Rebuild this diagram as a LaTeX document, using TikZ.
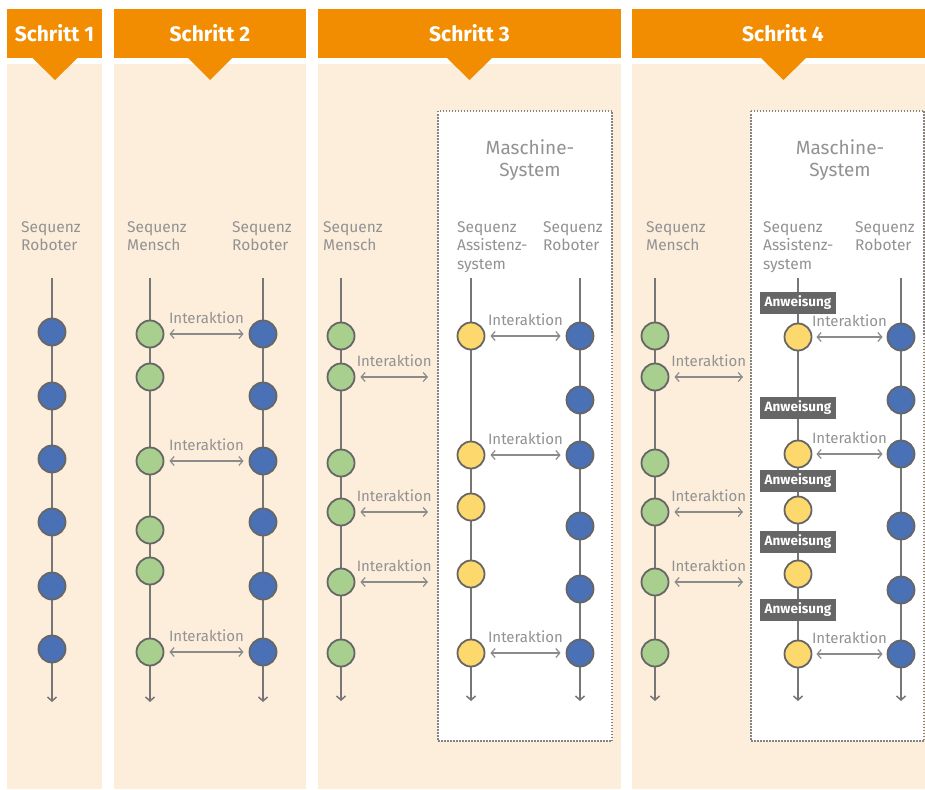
\documentclass[tikz,border=0pt]{standalone}
\usepackage{fontspec}
\setmainfont{Fira Sans}
\usetikzlibrary{arrows.meta}
\definecolor{orng}{HTML}{F28C00}
\definecolor{peach}{HTML}{FDEEDC}
\definecolor{grn}{HTML}{A8CF8E}
\definecolor{blu}{HTML}{4A70B5}
\definecolor{ylw}{HTML}{FDD86C}
\definecolor{rim}{HTML}{666666}
\definecolor{txt}{HTML}{929292}
\definecolor{lin}{HTML}{767676}
\tikzset{dot/.style={shape=circle,draw=rim,line width=1.8pt,minimum size=27pt,inner sep=0pt}}
\tikzset{mensch/.style={dot,fill=grn},roboter/.style={dot,fill=blu},assist/.style={dot,fill=ylw}}
\tikzset{barb/.tip={Straight Barb[length=4pt,width=9pt]}}
\tikzset{seq/.style={draw=lin,line width=1.5pt,-barb}}
\tikzset{ia/.style={draw=lin!85,line width=1.2pt,barb-barb,shorten <=5pt,shorten >=5pt}}
\tikzset{lbl/.style={above=10pt,inner sep=0pt,text=txt,font=\fontsize{15}{18}\selectfont}}
\tikzset{seqtext/.style={anchor=north west,align=left,inner sep=0pt,text=txt,font=\fontsize{15.5}{18.5}\selectfont}}
\tikzset{systext/.style={anchor=north,align=center,inner sep=0pt,text=txt,font=\fontsize{19}{22}\selectfont}}
\tikzset{head/.style={fill=orng,minimum height=49pt,inner sep=0pt,text=white,font=\fontsize{21}{24}\selectfont\bfseries}}
\tikzset{anw/.style={fill=rim,minimum width=76pt,minimum height=22pt,inner sep=0pt,text=white,font=\fontsize{13.5}{15}\selectfont\bfseries}}
\tikzset{sysbox/.style={fill=white,draw=lin!90,line width=1.5pt,dash pattern=on 1.5pt off 1.5pt}}

\begin{document}
\begin{tikzpicture}[x=1pt,y=-1pt]
  \clip (0,0) rectangle (925,789);

  \fill[peach] (7,64) rectangle (102,789);
  \fill[peach] (114,64) rectangle (306,789);
  \fill[peach] (318,64) rectangle (621,789);
  \fill[peach] (632,64) rectangle (934,789);

  \node (S1) [head,minimum width=95pt] at (54.5,33.5) {Schritt 1};
  \node (S2) [head,minimum width=192pt] at (210,33.5) {Schritt 2};
  \node (S3) [head,minimum width=303pt] at (469.5,33.5) {Schritt 3};
  \node (S4) [head,minimum width=302pt] at (783,33.5) {Schritt 4};

  \fill[orng] (32.5,58) -- (77.5,58) -- (55,80) -- cycle;
  \fill[orng] (188,58) -- (232,58) -- (210,80) -- cycle;
  \fill[orng] (447,58) -- (492,58) -- (469.5,80) -- cycle;
  \fill[orng] (761,58) -- (806,58) -- (783.5,80) -- cycle;

  \draw[sysbox] (438,111) rectangle (612,741);
  \draw[sysbox] (751,111) rectangle (924,741);

  \node (MS3) [systext] at (530,139) {Maschine-\\System};
  \node (MS4) [systext] at (840,139) {Maschine-\\System};

  \node (L11) [seqtext] at (21,221) {Sequenz\\Roboter};
  \node (L21) [seqtext] at (127,221) {Sequenz\\Mensch};
  \node (L22) [seqtext] at (232,221) {Sequenz\\Roboter};
  \node (L31) [seqtext] at (323,221) {Sequenz\\Mensch};
  \node (L32) [seqtext] at (457,221) {Sequenz\\Assistenz-\\system};
  \node (L33) [seqtext] at (543,221) {Sequenz\\Roboter};
  \node (L41) [seqtext] at (646,221) {Sequenz\\Mensch};
  \node (L42) [seqtext] at (763,221) {Sequenz\\Assistenz-\\system};
  \node (L43) [seqtext] at (855,221) {Sequenz\\Roboter};

  \coordinate (T11) at (52,278);  \coordinate (B11) at (52,702);
  \coordinate (T21) at (150,278); \coordinate (B21) at (150,702);
  \coordinate (T22) at (263,278); \coordinate (B22) at (263,702);
  \coordinate (T31) at (341,278); \coordinate (B31) at (341,701);
  \coordinate (T32) at (471,278); \coordinate (B32) at (471,701);
  \coordinate (T33) at (580,278); \coordinate (B33) at (580,701);
  \coordinate (T41) at (655,278); \coordinate (B41) at (655,701);
  \coordinate (T42) at (798,278); \coordinate (B42) at (798,701);
  \coordinate (T43) at (901,278); \coordinate (B43) at (901,701);

  \path (T11) edge[seq] (B11);
  \path (T21) edge[seq] (B21);
  \path (T22) edge[seq] (B22);
  \path (T31) edge[seq] (B31);
  \path (T32) edge[seq] (B32);
  \path (T33) edge[seq] (B33);
  \path (T41) edge[seq] (B41);
  \path (T42) edge[seq] (B42);
  \path (T43) edge[seq] (B43);

  \node (R11) [roboter] at (52,332) {};
  \node (R12) [roboter] at (52,396) {};
  \node (R13) [roboter] at (52,459) {};
  \node (R14) [roboter] at (52,522) {};
  \node (R15) [roboter] at (52,586) {};
  \node (R16) [roboter] at (52,649) {};

  \node (M21) [mensch] at (150,334) {};
  \node (M22) [mensch] at (150,377) {};
  \node (M23) [mensch] at (150,461) {};
  \node (M24) [mensch] at (150,530) {};
  \node (M25) [mensch] at (150,571) {};
  \node (M26) [mensch] at (150,652) {};
  \node (R21) [roboter] at (263,334) {};
  \node (R22) [roboter] at (263,396) {};
  \node (R23) [roboter] at (263,461) {};
  \node (R24) [roboter] at (263,522) {};
  \node (R25) [roboter] at (263,586) {};
  \node (R26) [roboter] at (263,652) {};

  \path (M21) edge[ia] node[lbl] {Interaktion} (R21);
  \path (M23) edge[ia] node[lbl] {Interaktion} (R23);
  \path (M26) edge[ia] node[lbl] {Interaktion} (R26);

  \node (M31) [mensch] at (341,336) {};
  \node (M32) [mensch] at (341,377) {};
  \node (M33) [mensch] at (341,463) {};
  \node (M34) [mensch] at (341,512) {};
  \node (M35) [mensch] at (341,582) {};
  \node (M36) [mensch] at (341,653) {};
  \node (A31) [assist] at (471,336) {};
  \node (A32) [assist] at (471,455) {};
  \node (A33) [assist] at (471,507) {};
  \node (A34) [assist] at (471,574) {};
  \node (A35) [assist] at (471,653) {};
  \node (R31) [roboter] at (580,336) {};
  \node (R32) [roboter] at (580,400) {};
  \node (R33) [roboter] at (580,455) {};
  \node (R34) [roboter] at (580,526) {};
  \node (R35) [roboter] at (580,589) {};
  \node (R36) [roboter] at (580,653) {};

  \coordinate (E32) at (433,377);
  \coordinate (E34) at (433,512);
  \coordinate (E35) at (433,582);

  \path (M32) edge[ia] node[lbl] {Interaktion} (E32);
  \path (M34) edge[ia] node[lbl] {Interaktion} (E34);
  \path (M35) edge[ia] node[lbl] {Interaktion} (E35);
  \path (A31) edge[ia] node[lbl] {Interaktion} (R31);
  \path (A32) edge[ia] node[lbl] {Interaktion} (R33);
  \path (A35) edge[ia] node[lbl] {Interaktion} (R36);

  \node (M41) [mensch] at (655,336) {};
  \node (M42) [mensch] at (655,377) {};
  \node (M43) [mensch] at (655,463) {};
  \node (M44) [mensch] at (655,512) {};
  \node (M45) [mensch] at (655,582) {};
  \node (M46) [mensch] at (655,653) {};
  \node (A41) [assist] at (798,337) {};
  \node (A42) [assist] at (798,454) {};
  \node (A43) [assist] at (798,510) {};
  \node (A44) [assist] at (798,574) {};
  \node (A45) [assist] at (798,654) {};
  \node (R41) [roboter] at (901,337) {};
  \node (R42) [roboter] at (901,400) {};
  \node (R43) [roboter] at (901,454) {};
  \node (R44) [roboter] at (901,526) {};
  \node (R45) [roboter] at (901,590) {};
  \node (R46) [roboter] at (901,654) {};

  \node (W41) [anw] at (798,303) {Anweisung};
  \node (W42) [anw] at (798,408) {Anweisung};
  \node (W43) [anw] at (798,481) {Anweisung};
  \node (W44) [anw] at (798,542) {Anweisung};
  \node (W45) [anw] at (798,610) {Anweisung};

  \coordinate (E42) at (748,377);
  \coordinate (E44) at (748,512);
  \coordinate (E45) at (748,582);

  \path (M42) edge[ia] node[lbl] {Interaktion} (E42);
  \path (M44) edge[ia] node[lbl] {Interaktion} (E44);
  \path (M45) edge[ia] node[lbl] {Interaktion} (E45);
  \path (A41) edge[ia,shorten <=4pt,shorten >=4pt] node[lbl] {Interaktion} (R41);
  \path (A42) edge[ia,shorten <=4pt,shorten >=4pt] node[lbl] {Interaktion} (R43);
  \path (A45) edge[ia,shorten <=4pt,shorten >=4pt] node[lbl] {Interaktion} (R46);
\end{tikzpicture}
\end{document}
